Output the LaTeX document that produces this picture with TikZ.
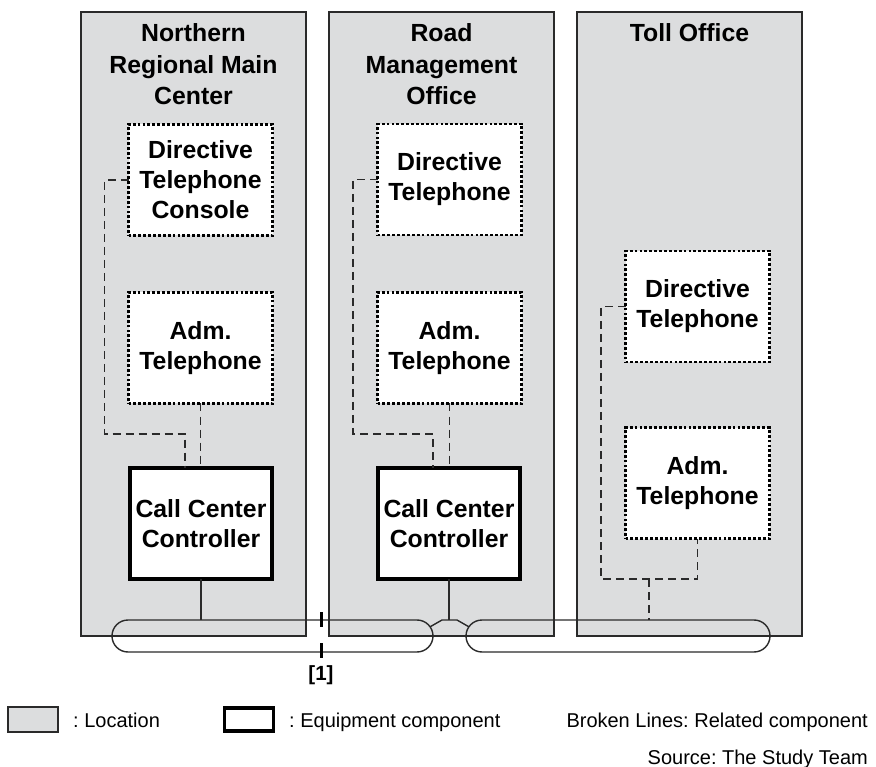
\documentclass[tikz,border=0pt]{standalone}
\usepackage{fontspec}
\setmainfont{Liberation Sans}
\frenchspacing
\usetikzlibrary{shapes.misc,calc}
\definecolor{panelgray}{HTML}{DCDDDE}
\definecolor{linegray}{HTML}{2A2A2A}
\begin{document}
\begin{tikzpicture}[x=1pt,y=-1pt,
  panel/.style={draw=linegray, line width=1.5pt, fill=panelgray, minimum width=225pt, minimum height=624pt, inner sep=0pt, outer sep=0pt},
  title/.style={font=\fontsize{24.8}{31.7}\selectfont\bfseries, align=center, inner sep=0pt},
  dotbox/.style={draw=black, line width=2.8pt, dash pattern=on 2.8pt off 2.1pt, fill=white, minimum width=144pt, minimum height=111pt, align=center, inner sep=0pt, outer sep=0pt, font=\fontsize{24.8}{30}\selectfont\bfseries},
  ctrlbox/.style={draw=black, line width=3.5pt, fill=white, minimum width=142pt, minimum height=111pt, align=center, inner sep=0pt, outer sep=0pt, font=\fontsize{24.8}{30}\selectfont\bfseries},
  rel/.style={draw=linegray, line width=1.7pt, dash pattern=on 8pt off 5pt},
  bus/.style={draw=linegray, line width=1.4pt},
  loopbox/.style={rounded rectangle, draw=linegray, line width=1.4pt, minimum height=32pt, inner sep=0pt, outer sep=0pt},
  tickmark/.style={draw=black, line width=3pt},
  legend/.style={font=\fontsize{20}{24}\selectfont, inner sep=0pt}
]
\useasboundingbox (0,0) rectangle (876,767);

% location panels
\node[panel] (Lp) at (193.5,324) {};
\node[panel] (Mp) at (441.5,324) {};
\node[panel] (Rp) at (689.5,324) {};

\node[title] (Lt) at (193.5,64.3) {Northern\\Regional Main\\Center};
\node[title] (Mt) at (441.5,64.3) {Road\\Management\\Office};
\node[title] (Rt) at (689.5,33) {Toll Office};

% components
\node[dotbox] (Ldir) at (200.5,180) {Directive\\Telephone\\Console};
\node[dotbox] (Ladm) at (200.5,348) {Adm.\\Telephone};
\node[ctrlbox] (Lctl) at (201,523.5) {Call Center\\Controller};

\node[dotbox] (Mdir) at (449.5,179.5) {Directive\\Telephone};
\node[dotbox] (Madm) at (449.5,348) {Adm.\\Telephone};
\node[ctrlbox] (Mctl) at (449,523.5) {Call Center\\Controller};

\node[dotbox] (Rdir) at (697.5,306.5) {Directive\\Telephone};
\node[dotbox] (Radm) at (697.5,483) {Adm.\\Telephone};

% loops
\node[loopbox, minimum width=321pt] (Lloop) at (272.5,636) {};
\node[loopbox, minimum width=304pt] (Rloop) at (618,636) {};

% related (broken) lines
\coordinate (Lk) at (104.5,434);
\coordinate (Mk) at (353,434);
\coordinate (Rk) at (601,579);
\coordinate (Rj) at (649,579);
\draw[rel] (Ldir.west) -- (Ldir.west -| Lk) -- (Lk) -| ([xshift=-16pt]Lctl.north);
\draw[rel] (Ladm.south) -- (Ladm.south |- Lctl.north);
\draw[rel] (Mdir.west) -- (Mdir.west -| Mk) -- (Mk) -| ([xshift=-16pt]Mctl.north);
\draw[rel] (Madm.south) -- (Madm.south |- Mctl.north);
\draw[rel] (Rdir.west) -- (Rdir.west -| Rk) -- (Rk) -| (Radm.south);
\draw[rel] (Rj) -- (Rj |- Rloop.north);

% solid links
\draw[bus] (Lctl.south) -- (Lctl.south |- Lloop.north);
\draw[bus] (Mctl.south) -- (Mctl.south |- Lloop.north);
\coordinate (b1) at (442,620);
\coordinate (b2) at (457,620);
\draw[bus] ($(Lloop.east)+(-2.9,-9.2)$) -- (b1) -- (b2) -- ($(Rloop.west)+(2.9,-9.2)$);

% marker [1]
\coordinate (m1) at (321,612);
\coordinate (m2) at (321,643);
\draw[tickmark] (m1) -- ++(0,15);
\draw[tickmark] (m2) -- ++(0,15);
\node[font=\fontsize{20.5}{24}\selectfont\bfseries, inner sep=0pt] (lab1) at (321,675) {[1]};

% legend
\node[draw=linegray, line width=1.5pt, fill=panelgray, minimum width=50pt, minimum height=25pt, inner sep=0pt] (legloc) at (33,719.5) {};
\node[legend, anchor=base west] (legloct) at (73,727) {: Location};
\node[draw=black, line width=3.5pt, fill=white, minimum width=49pt, minimum height=23pt, inner sep=0pt] (legeq) at (249,719.5) {};
\node[legend, anchor=base west] (legeqt) at (289,727) {: Equipment component};
\node[legend, anchor=base east] (legbr) at (868,727) {Broken Lines: Related component};
\node[legend, anchor=base east] (src) at (868,764) {Source: The Study Team};
\end{tikzpicture}
\end{document}
